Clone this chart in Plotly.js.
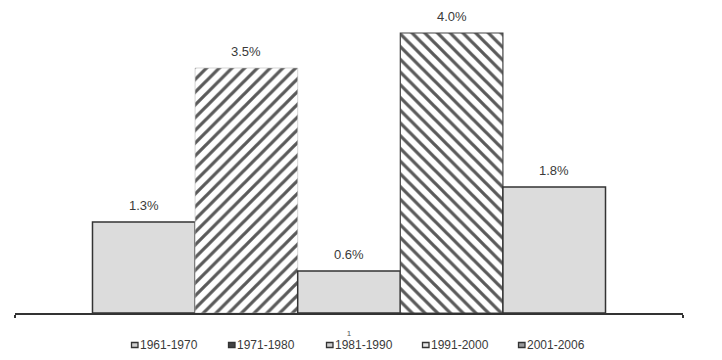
<!DOCTYPE html>
<html>
<head>
<meta charset="utf-8">
<script src="https://cdn.plot.ly/plotly-3.0.1.min.js"></script>
<style>html,body{margin:0;padding:0;background:#fff;}#chart{width:722px;height:360px;}</style>
</head>
<body>
<div id="chart"></div>
<script>
// ---- data ----
const category = ['1'];
const periods = ['1961-1970', '1971-1980', '1981-1990', '1991-2000', '2001-2006'];
const growth = [1.3, 3.5, 0.6, 4.0, 1.8];
const labels = ['1.3%', '3.5%', '0.6%', '4.0%', '1.8%'];

// ---- styles ----
const patterns = ['', '/', '', '\\', ''];
const fills = ['#dcdcdc', '#ffffff', '#dcdcdc', '#ffffff', '#dcdcdc'];
const lineColors = ['#333', '#bbb', '#333', '#444', '#333'];
const lineWidths = [1.5, 0.6, 1.5, 1.2, 1.5];
const legendIconFill = ['#cfcfcf', '#444', '#cfcfcf', '#e6e6e6', '#9a9a9a'];
const legendTextPx = [140, 237, 335, 431, 527];
const bargap = 0.232;

const plotLeft = 15, plotWidth = 668, plotBottom = 313, plotHeight = 308;
const toPaperX = px => (px - plotLeft) / plotWidth;
const legendY = (plotBottom - 345) / plotHeight;

const traces = periods.map((p, i) => ({
  type: 'bar',
  name: p,
  x: category,
  y: [growth[i]],
  marker: {
    color: fills[i],
    line: {color: lineColors[i], width: lineWidths[i]},
    pattern: patterns[i] ? {shape: patterns[i], fgcolor: '#5a5a5a', bgcolor: '#ffffff', size: 9, solidity: 0.36} : {shape: ''}
  },
  hoverinfo: 'none'
}));

const n = periods.length;
const bw = (1 - bargap) / n;
const annotations = [];
const shapes = [];
growth.forEach((v, i) => {
  annotations.push({
    xref: 'x', yref: 'y',
    x: -0.5 + bargap / 2 + bw * (i + 0.5),
    y: v,
    text: labels[i],
    showarrow: false,
    yanchor: 'bottom',
    yshift: 7,
    font: {family: 'Liberation Sans, Arial, sans-serif', size: 13, color: '#3a3a3a'}
  });
  annotations.push({
    xref: 'paper', yref: 'paper',
    x: toPaperX(legendTextPx[i] - 2),
    y: legendY,
    xanchor: 'left', yanchor: 'middle',
    text: periods[i],
    showarrow: false,
    font: {family: 'Liberation Sans, Arial, sans-serif', size: 12, color: '#3a3a3a'}
  });
  shapes.push({
    type: 'rect',
    xref: 'paper', yref: 'paper',
    xsizemode: 'pixel', ysizemode: 'pixel',
    xanchor: toPaperX(legendTextPx[i] - 5), yanchor: legendY,
    x0: -3.5, x1: 3, y0: -2.5, y1: 2.5,
    line: {color: '#333', width: 1.3},
    fillcolor: legendIconFill[i]
  });
});

const layout = {
  width: 722, height: 360,
  margin: {l: plotLeft, r: 722 - plotLeft - plotWidth, t: plotBottom - plotHeight, b: 360 - plotBottom},
  paper_bgcolor: '#ffffff',
  plot_bgcolor: '#ffffff',
  barmode: 'group',
  bargap: bargap,
  bargroupgap: 0,
  showlegend: false,
  xaxis: {
    type: 'category',
    range: [-0.5, 0.5],
    showline: true, linecolor: '#333', linewidth: 1.5,
    ticks: 'outside', tickson: 'boundaries', ticklen: 3, tickcolor: '#333', tickwidth: 1.5,
    tickfont: {family: 'Liberation Sans, Arial, sans-serif', size: 8, color: '#555'},
    ticklabelstandoff: 12,
    showgrid: false, zeroline: false, fixedrange: true
  },
  yaxis: {
    range: [0, 4.4],
    visible: false, showgrid: false, zeroline: false, fixedrange: true
  },
  annotations: annotations,
  shapes: shapes,
  font: {family: 'Liberation Sans, Arial, sans-serif', color: '#333'}
};

Plotly.newPlot('chart', traces, layout, {displayModeBar: false, staticPlot: true});
</script>
</body>
</html>
